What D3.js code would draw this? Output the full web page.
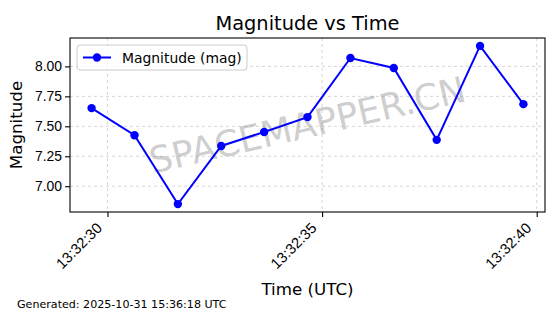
<!DOCTYPE html>
<html><head><meta charset="utf-8">
<script src="https://cdn.jsdelivr.net/npm/d3@7"></script>
<style>body{margin:0;background:#fff;}svg{display:block;font-family:"DejaVu Sans",sans-serif;}</style>
</head><body>
<script>
const seconds = [29.63, 30.63, 31.64, 32.65, 33.65, 34.66, 35.66, 36.67, 37.67, 38.68, 39.69];
const magnitudes = [7.652, 7.426, 6.851, 7.336, 7.453, 7.577, 8.07, 7.987, 7.387, 8.171, 7.685];
const yTicks = [7.00, 7.25, 7.50, 7.75, 8.00];
const xTickSeconds = [30, 35, 40];
const title = "Magnitude vs Time";
const xLabel = "Time (UTC)";
const yLabel = "Magnitude";
const legendLabel = "Magnitude (mag)";
const footer = "Generated: 2025-10-31 15:36:18 UTC";
const watermark = "SPACEMAPPER.CN";

const W = 560, H = 314;
const L = 70, R = 545, T = 38, B = 212;
const toDate = s => new Date(Date.UTC(2025, 9, 31, 13, 32, 0) + s * 1000);
const data = seconds.map((s, i) => ({t: toDate(s), v: magnitudes[i]}));

const svg = d3.select("body").append("svg").attr("width", W).attr("height", H);

const tExt = d3.extent(data, d => +d.t), tPad = (tExt[1] - tExt[0]) * 0.05;
const x = d3.scaleUtc().domain([tExt[0] - tPad, tExt[1] + tPad]).range([L, R]);
const vExt = d3.extent(data, d => d.v), vPad = (vExt[1] - vExt[0]) * 0.05;
const y = d3.scaleLinear().domain([vExt[0] - vPad, vExt[1] + vPad]).range([B, T]);

const xTicks = xTickSeconds.map(toDate);
const fmt = d3.utcFormat("%H:%M:%S");

// grid
const grid = svg.append("g").attr("stroke", "#b0b0b0").attr("stroke-opacity", 0.65)
  .attr("stroke-width", 0.8).attr("stroke-dasharray", "3,3");
xTicks.forEach(t => grid.append("line").attr("x1", x(t)).attr("x2", x(t)).attr("y1", T).attr("y2", B));
yTicks.forEach(v => grid.append("line").attr("x1", L).attr("x2", R).attr("y1", y(v)).attr("y2", y(v)));

// watermark
svg.append("text").attr("x", (L + R) / 2).attr("y", (T + B) / 2)
  .attr("transform", `rotate(-13 ${(L + R) / 2} ${(T + B) / 2})`)
  .attr("text-anchor", "middle").attr("dominant-baseline", "central")
  .attr("font-size", 36).attr("fill", "#808080").attr("fill-opacity", 0.4).text(watermark);

// axes
const xAxis = svg.append("g").attr("transform", `translate(0,${B})`)
  .call(d3.axisBottom(x).tickValues(xTicks).tickFormat(fmt).tickSize(5).tickSizeOuter(0));
xAxis.selectAll("text").attr("font-size", 14.8).attr("fill", "#000")
  .attr("text-anchor", "end").attr("dy", null).attr("y", 0)
  .attr("transform", "translate(-5,17) rotate(-45)");
const yAxis = svg.append("g").attr("transform", `translate(${L},0)`)
  .call(d3.axisLeft(y).tickValues(yTicks).tickFormat(d3.format(".2f")).tickSize(5).tickSizeOuter(0));
yAxis.selectAll("text").attr("font-size", 13.9).attr("fill", "#000").attr("x", -8);
[xAxis, yAxis].forEach(a => { a.select(".domain").remove(); a.selectAll("line").attr("stroke", "#000").attr("stroke-width", 1.1); });

svg.append("rect").attr("x", L).attr("y", T).attr("width", R - L).attr("height", B - T)
  .attr("fill", "none").attr("stroke", "#000").attr("stroke-width", 1.1);

// line
svg.append("path").datum(data).attr("fill", "none").attr("stroke", "#0000ff").attr("stroke-width", 2)
  .attr("d", d3.line().x(d => x(d.t)).y(d => y(d.v)));
svg.selectAll("circle.pt").data(data).join("circle").attr("class", "pt")
  .attr("cx", d => x(d.t)).attr("cy", d => y(d.v)).attr("r", 4.2).attr("fill", "#0000ff");

// legend
const lg = svg.append("g");
lg.append("rect").attr("x", 77).attr("y", 45).attr("width", 170).attr("height", 25).attr("rx", 3)
  .attr("fill", "#fff").attr("fill-opacity", 0.8).attr("stroke", "#cccccc").attr("stroke-width", 1);
lg.append("line").attr("x1", 83).attr("x2", 111).attr("y1", 57.5).attr("y2", 57.5).attr("stroke", "#0000ff").attr("stroke-width", 2);
lg.append("circle").attr("cx", 97).attr("cy", 57.5).attr("r", 4.2).attr("fill", "#0000ff");
lg.append("text").attr("x", 122).attr("y", 62.5).attr("font-size", 13.9).text(legendLabel);

// titles
svg.append("text").attr("x", (L + R) / 2).attr("y", 30).attr("text-anchor", "middle").attr("font-size", 19.4).text(title);
svg.append("text").attr("x", (L + R) / 2).attr("y", 295).attr("text-anchor", "middle").attr("font-size", 16.7).text(xLabel);
svg.append("text").attr("transform", `translate(22,${(T + B) / 2}) rotate(-90)`).attr("text-anchor", "middle").attr("font-size", 16.7).text(yLabel);
svg.append("text").attr("x", 17).attr("y", 308).attr("font-size", 11.1).text(footer);
</script>
</body></html>
